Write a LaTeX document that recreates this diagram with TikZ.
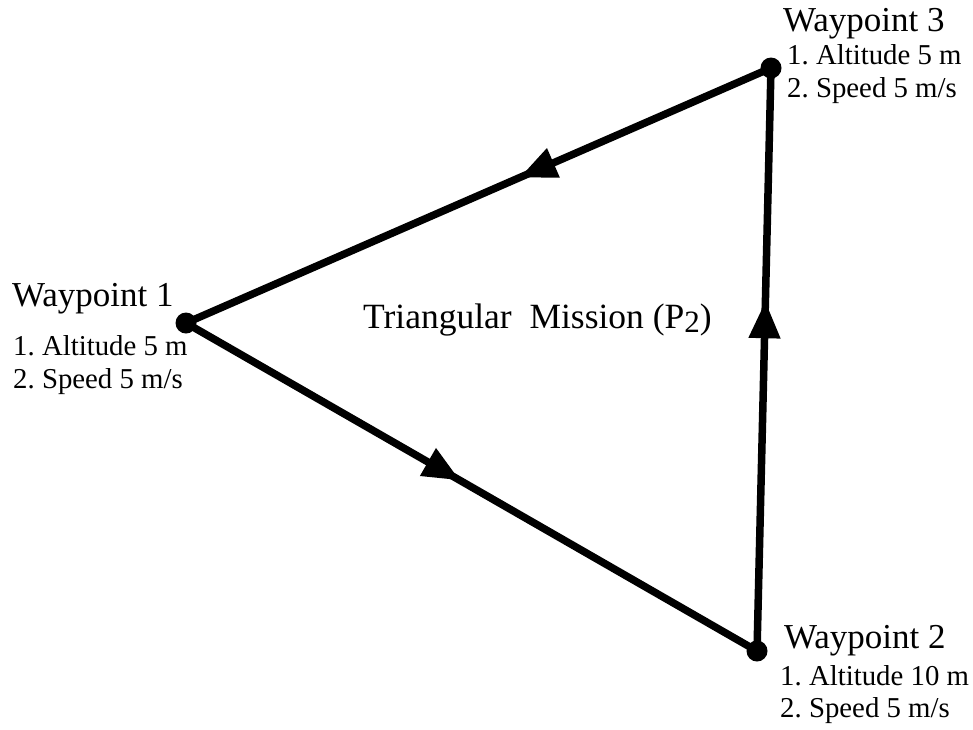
\documentclass[tikz,border=0pt]{standalone}
\usepackage{fontspec}
\setmainfont{Liberation Serif}
\usetikzlibrary{arrows.meta,decorations.markings}
\frenchspacing
\begin{document}
\begin{tikzpicture}[x=1pt,y=-1pt,
  dot/.style={circle,fill=black,inner sep=0pt,minimum size=21pt},
  wptitle/.style={anchor=base west,inner sep=0pt,font=\fontsize{35}{35}\selectfont},
  wpitem/.style={anchor=base west,inner sep=0pt,font=\fontsize{28.8}{28.8}\selectfont},
  leg/.style={line width=7.5pt,postaction={decorate}},
  midarrow/.style={decoration={markings,
      mark=at position #1 with {\arrow{Triangle[length=37pt,width=30pt]}}}},
  ]
\useasboundingbox (0,0) rectangle (973,729);

% waypoints
\node[dot] (wp1) at (186,323) {};
\node[dot] (wp2) at (757,651) {};
\node[dot] (wp3) at (771,68) {};

% legs of the triangle, each with a direction arrow
\draw[leg,midarrow=.48] (wp1.center) -- (wp2.center);
\draw[leg,midarrow=.60] (wp2.center) -- (wp3.center);
\draw[leg,midarrow=.43] (wp3.center) -- (wp1.center);

% waypoint 1 labels
\node[wptitle] (t1) at (12,306) {Waypoint 1};
\node[wpitem] (t1a) at (13,355) {1. Altitude 5 m};
\node[wpitem] (t1b) at (13,388) {2. Speed 5 m/s};

% waypoint 2 labels
\node[wptitle] (t2) at (784,648) {Waypoint 2};
\node[wpitem] (t2a) at (780,685) {1. Altitude 10 m};
\node[wpitem] (t2b) at (780,717) {2. Speed 5 m/s};

% waypoint 3 labels
\node[wptitle] (t3) at (783,31) {Waypoint 3};
\node[wpitem] (t3a) at (787,64) {1. Altitude 5 m};
\node[wpitem] (t3b) at (787,97) {2. Speed 5 m/s};

% mission title
\node[anchor=base west,inner sep=0pt,font=\fontsize{35.5}{35.5}\selectfont] (mission) at (363,328)
  {Triangular\ \ Mission (P\raisebox{-4pt}{\fontsize{31}{31}\selectfont 2})};
\end{tikzpicture}
\end{document}
